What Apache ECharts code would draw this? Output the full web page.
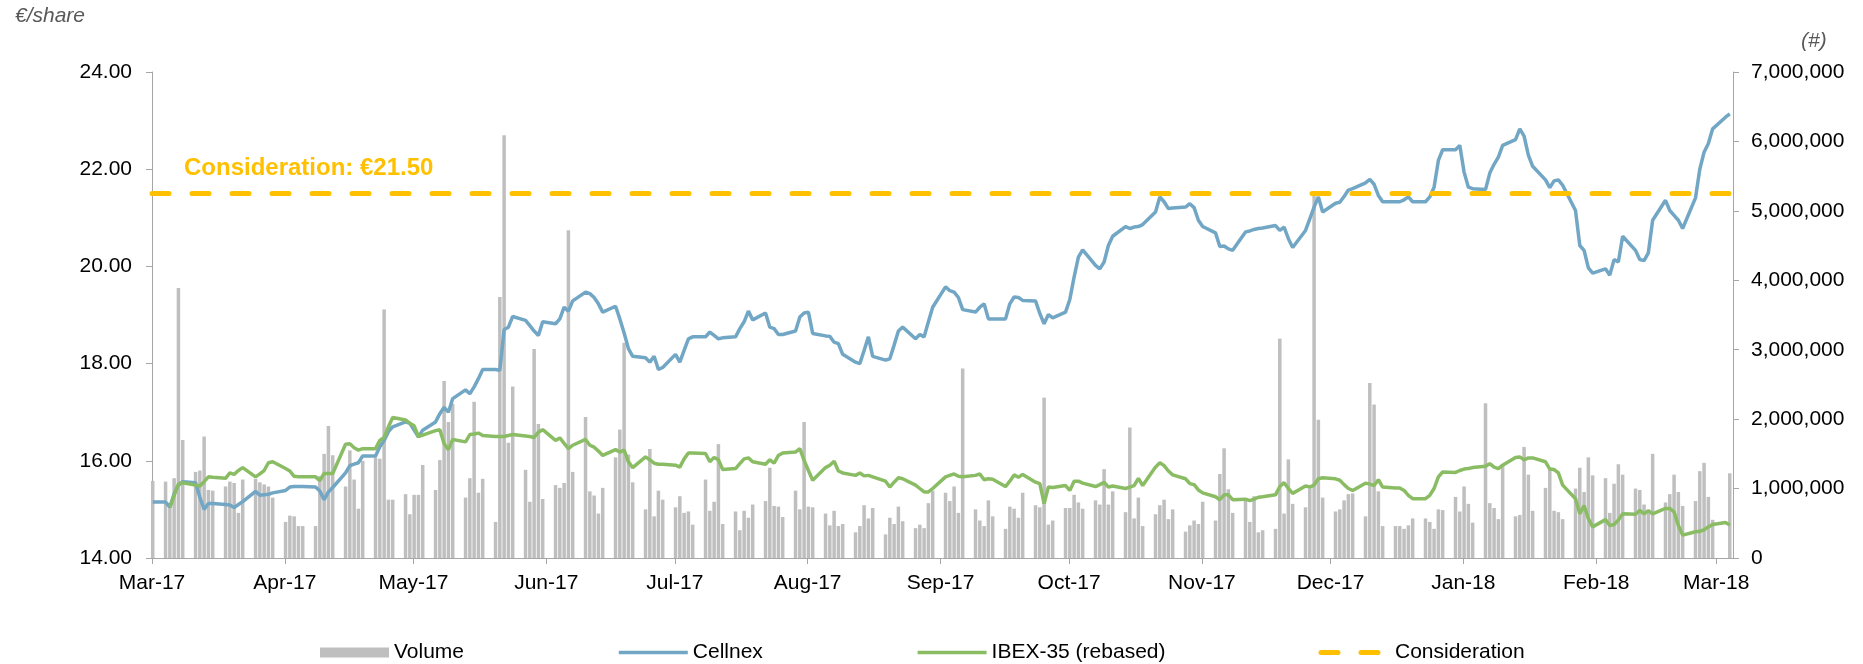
<!DOCTYPE html>
<html>
<head>
<meta charset="utf-8">
<title>Cellnex share price vs IBEX-35</title>
<script src="https://cdn.jsdelivr.net/npm/echarts@6/dist/echarts.min.js"></script>
<style>
  html, body { margin: 0; padding: 0; background: #fff; }
  #chart { width: 1863px; height: 664px; }
</style>
</head>
<body>
<div id="chart"></div>
<script>
// trading days: every weekday from 3 Mar 2017 to 6 Mar 2018 (one row per week below)
const firstDay = '2017-03-03';
const lastDay = '2018-03-06';
const tickDates = ['2017-03-03', '2017-04-03', '2017-05-03', '2017-06-03', '2017-07-03', '2017-08-03',
  '2017-09-03', '2017-10-03', '2017-11-03', '2017-12-03', '2018-01-03', '2018-02-03', '2018-03-03'];
const monthNames = ['Jan', 'Feb', 'Mar', 'Apr', 'May', 'Jun', 'Jul', 'Aug', 'Sep', 'Oct', 'Nov', 'Dec'];

const cellnex = [
  15.15,
  15.15, 15.05, 15.32, 15.50, 15.57,
  15.55, 15.25, 15.00, 15.12, 15.12,
  15.10, 15.09, 15.04, 15.10, 15.16,
  15.37, 15.29, 15.30, 15.31, 15.34,
  15.39, 15.46, 15.47, 15.47, 15.47,
  15.46, 15.38, 15.20, 15.36, 15.45,
  15.75, 15.90, 15.93, 15.96, 16.10,
  16.10, 16.29, 16.42, 16.60, 16.70,
  16.80, 16.77, 16.63, 16.49, 16.63,
  16.80, 16.97, 17.10, 17.00, 17.28,
  17.46, 17.38, 17.52, 17.69, 17.88,
  17.88, 17.86, 18.70, 18.75, 18.97,
  18.89, 18.78, 18.67, 18.58, 18.86,
  18.82, 18.92, 19.16, 19.08, 19.29,
  19.47, 19.44, 19.36, 19.23, 19.06,
  19.18, 18.92, 18.63, 18.31, 18.15,
  18.12, 18.03, 18.15, 17.88, 17.92,
  18.19, 18.03, 18.27, 18.51, 18.55,
  18.55, 18.65, 18.58, 18.51, 18.53,
  18.55, 18.72, 18.86, 19.08, 18.90,
  19.04, 18.75, 18.72, 18.60, 18.60,
  18.67, 18.96, 19.04, 19.06, 18.62,
  18.57, 18.56, 18.44, 18.41, 18.19,
  18.03, 18.00, 18.27, 18.55, 18.15,
  18.07, 18.10, 18.38, 18.67, 18.75,
  18.51, 18.60, 18.55, 18.86, 19.16,
  19.58, 19.50, 19.47, 19.36, 19.11,
  19.06, 19.16, 19.23, 18.92, 18.92,
  18.92, 19.23, 19.37, 19.36, 19.30,
  19.29, 19.03, 18.82, 19.01, 18.94,
  19.06, 19.32, 19.78, 20.19, 20.34,
  20.02, 19.95, 20.09, 20.43, 20.62,
  20.82, 20.78, 20.81, 20.82, 20.86,
  21.12, 21.43, 21.33, 21.19, 21.20,
  21.22, 21.29, 21.21, 20.95, 20.82,
  20.69, 20.41, 20.42, 20.36, 20.33,
  20.71, 20.73, 20.76, 20.78, 20.79,
  20.84, 20.74, 20.81, 20.57, 20.39,
  20.74, 20.98, 21.22, 21.43, 21.12,
  21.30, 21.32, 21.44, 21.57, 21.60,
  21.72, 21.79, 21.69, 21.46, 21.33,
  21.33, 21.33, 21.37, 21.43, 21.33,
  21.33, 21.43, 21.63, 22.18, 22.40,
  22.40, 22.49, 21.94, 21.63, 21.60,
  21.58, 21.92, 22.10, 22.25, 22.49,
  22.61, 22.83, 22.68, 22.29, 22.06,
  21.78, 21.62, 21.76, 21.78, 21.67,
  21.15, 20.43, 20.33, 19.97, 19.86,
  19.95, 19.82, 20.14, 20.09, 20.62,
  20.33, 20.14, 20.12, 20.28, 20.95,
  21.36, 21.15, 21.05, 20.95, 20.78,
  21.41, 22.00, 22.35, 22.53, 22.83,
  23.07, 23.14
];

const ibexRebased = [
  null,
  null, 15.04, 15.29, 15.52, 15.55,
  15.50, 15.48, 15.57, 15.67, 15.66,
  15.64, 15.75, 15.72, 15.80, 15.86,
  15.67, 15.73, 15.80, 15.96, 15.98,
  15.84, 15.79, 15.68, 15.67, 15.67,
  15.67, 15.59, 15.74, 15.74, 15.74,
  16.34, 16.35, 16.27, 16.22, 16.25,
  16.25, 16.42, 16.48, 16.70, 16.89,
  16.84, 16.77, 16.72, 16.50, 16.53,
  16.62, 16.64, 16.35, 16.23, 16.44,
  16.39, 16.54, 16.55, 16.57, 16.52,
  16.50, 16.50, 16.50, 16.52, 16.54,
  16.51, 16.50, 16.48, 16.59, 16.64,
  16.42, 16.47, 16.36, 16.25, 16.32,
  16.44, 16.32, 16.28, 16.20, 16.11,
  16.23, 16.18, 16.22, 15.98, 15.86,
  16.08, 16.02, 15.95, 15.93, 15.93,
  15.91, 15.87, 16.04, 16.16, 16.16,
  16.15, 15.98, 16.07, 16.02, 15.82,
  15.84, 15.94, 16.04, 16.06, 15.98,
  15.93, 16.02, 15.95, 16.11, 16.16,
  16.18, 16.25, 16.01, 15.80, 15.60,
  15.86, 15.91, 15.99, 15.79, 15.75,
  15.70, 15.75, 15.69, 15.70, 15.67,
  15.58, 15.46, 15.56, 15.65, 15.63,
  15.50, 15.43, 15.36, 15.36, 15.43,
  15.67, 15.70, 15.73, 15.68, 15.67,
  15.70, 15.73, 15.61, 15.63, 15.62,
  15.47, 15.58, 15.71, 15.66, 15.72,
  15.56, 15.53, 15.12, 15.46, 15.45,
  15.49, 15.39, 15.58, 15.58, 15.54,
  15.47, 15.51, 15.56, 15.46, 15.48,
  15.43, 15.46, 15.49, 15.64, 15.49,
  15.87, 15.96, 15.90, 15.79, 15.71,
  15.63, 15.53, 15.51, 15.40, 15.34,
  15.26, 15.20, 15.30, 15.30, 15.20,
  15.21, 15.18, 15.21, 15.25, 15.26,
  15.30, 15.47, 15.55, 15.43, 15.33,
  15.48, 15.46, 15.50, 15.63, 15.65,
  15.63, 15.60, 15.51, 15.43, 15.39,
  15.54, 15.52, 15.49, 15.61, 15.46,
  15.44, 15.44, 15.39, 15.29, 15.22,
  15.22, 15.29, 15.43, 15.67, 15.77,
  15.76, 15.80, 15.83, 15.84, 15.86,
  15.89, 15.94, 15.87, 15.84, 15.91,
  16.07, 16.08, 16.02, 16.06, 16.06,
  15.98, 15.83, 15.82, 15.75, 15.50,
  15.22, 14.91, 15.08, 14.81, 14.64,
  14.79, 14.67, 14.69, 14.78, 14.91,
  14.90, 14.98, 14.91, 14.97, 14.91,
  15.02, 15.02, 14.95, 14.67, 14.47,
  14.54, 14.55, 14.58, 14.64, 14.69,
  14.73, 14.68
];

// daily volume, millions of shares
const volumeMillions = [
  1.11,
  1.10, 0.73, 1.15, 3.89, 1.70,
  1.24, 1.26, 1.75, 0.98, 0.97,
  1.03, 1.10, 1.08, 0.65, 1.13,
  1.14, 1.09, 1.06, 1.03, 0.87,
  0.52, 0.61, 0.60, 0.46, 0.46,
  0.46, 1.18, 1.50, 1.90, 1.48,
  1.03, 1.55, 1.13, 0.71, 1.40,
  1.45, 1.43, 3.58, 0.84, 0.84,
  0.92, 0.63, 0.91, 0.91, 1.34,
  0.98, 1.41, 2.55, 1.96, 2.22,
  0.87, 1.15, 2.25, 0.94, 1.14,
  0.52, 3.76, 6.09, 1.66, 2.47,
  1.27, 0.81, 3.01, 1.93, 0.85,
  1.05, 1.01, 1.08, 4.72, 1.24,
  2.03, 0.96, 0.90, 0.64, 1.01,
  1.45, 1.85, 3.10, 1.49, 1.09,
  0.70, 1.57, 0.60, 0.97, 0.84,
  0.73, 0.89, 0.65, 0.67, 0.48,
  1.13, 0.68, 0.81, 1.64, 0.49,
  0.67, 0.40, 0.68, 0.58, 0.77,
  0.82, 1.30, 0.75, 0.74, 0.59,
  0.97, 0.70, 1.96, 0.74, 0.73,
  0.64, 0.47, 0.68, 0.46, 0.49,
  0.37, 0.46, 0.76, 0.57, 0.72,
  0.34, 0.58, 0.49, 0.74, 0.53,
  0.43, 0.48, 0.43, 0.79, 0.97,
  0.94, 0.82, 1.03, 0.65, 2.73,
  0.70, 0.54, 0.46, 0.83, 0.60,
  0.42, 0.74, 0.71, 0.58, 0.94,
  0.76, 0.73, 2.31, 0.48, 0.54,
  0.72, 0.72, 0.91, 0.80, 0.71,
  0.83, 0.77, 1.28, 0.77, 0.96,
  0.66, 1.88, 0.57, 0.87, 0.46,
  0.63, 0.76, 0.84, 0.56, 0.70,
  0.38, 0.47, 0.54, 0.49, 0.81,
  0.54, 1.21, 1.58, 0.99, 0.65,
  0.83, 0.52, 0.89, 0.37, 0.40,
  0.42, 3.16, 0.64, 1.42, 0.78,
  0.73, 1.00, 5.25, 1.99, 0.87,
  0.67, 0.70, 0.83, 0.92, 0.93,
  0.60, 2.52, 2.21, 0.96, 0.46,
  0.46, 0.46, 0.42, 0.47, 0.57,
  0.57, 0.52, 0.42, 0.70, 0.69,
  0.88, 0.67, 1.03, 0.78, 0.51,
  2.23, 0.79, 0.72, 0.56, 1.35,
  0.60, 0.62, 1.60, 1.20, 0.68,
  1.01, 1.30, 0.68, 0.66, 0.56,
  1.00, 1.30, 0.95, 1.45, 1.19,
  1.15, 0.65, 1.07, 1.35, 1.20,
  1.00, 0.98, 0.77, 0.70, 1.50,
  0.80, 0.92, 1.20, 0.95, 0.75,
  0.82, 1.25, 1.37, 0.88, 0.55,
  null, 1.22
];

const considerationPrice = 21.5;

function parseDay(s, hour) {
  const p = s.split('-').map(Number);
  return new Date(p[0], p[1] - 1, p[2], hour || 0).getTime();
}

// weekdays only
const tradingDays = [];
for (let d = new Date(parseDay(firstDay)); d.getTime() <= parseDay(lastDay); d.setDate(d.getDate() + 1)) {
  if (d.getDay() !== 0 && d.getDay() !== 6) {
    tradingDays.push(new Date(d.getFullYear(), d.getMonth(), d.getDate(), 4).getTime());
  }
}
const monthTicks = tickDates.map(s => parseDay(s));
const axisStart = parseDay(firstDay);
const axisEnd = parseDay(lastDay, 22);

const FONT = '"Liberation Sans", Arial, Helvetica, sans-serif';
const BLUE = '#71A6C4';
const GREEN = '#8ABC64';
const GOLD = '#FFC000';
const consDash = { color: GOLD, width: 5, type: [17, 23], cap: 'round' };

const pair = arr => tradingDays.map((t, i) => [t, arr[i]]);

const chart = echarts.init(document.getElementById('chart'));
chart.setOption({
  animation: false,
  textStyle: { fontFamily: FONT },
  grid: { left: 152, right: 130, top: 72, bottom: 106 },
  legend: {
    left: 315,
    top: 637,
    itemWidth: 69,
    itemHeight: 10,
    itemGap: 153,
    textStyle: { fontFamily: FONT, fontSize: 21, color: '#000' },
    data: [
      { name: 'Volume', icon: 'rect' },
      { name: 'Cellnex', itemStyle: { opacity: 0 }, lineStyle: { color: BLUE, width: 3.5 } },
      { name: 'IBEX-35 (rebased)', itemStyle: { opacity: 0 }, lineStyle: { color: GREEN, width: 3.5 } },
      { name: 'Consideration', itemStyle: { opacity: 0 }, lineStyle: consDash }
    ]
  },
  xAxis: {
    // timestamps on a value axis, so month ticks can sit on the 3rd of each month
    type: 'value',
    min: axisStart,
    max: axisEnd,
    axisLine: { onZero: false, lineStyle: { color: '#A6A6A6', width: 1 } },
    axisTick: { customValues: monthTicks, length: 6, lineStyle: { color: '#A6A6A6' } },
    axisLabel: {
      customValues: monthTicks,
      margin: 15,
      fontFamily: FONT,
      fontSize: 21,
      color: '#000',
      formatter: v => {
        const d = new Date(v);
        return monthNames[d.getMonth()] + '-' + String(d.getFullYear()).slice(2);
      }
    },
    splitLine: { show: false }
  },
  yAxis: [
    {
      type: 'value',
      min: 14,
      max: 24,
      interval: 2,
      axisLine: { show: true, onZero: false, lineStyle: { color: '#A6A6A6' } },
      axisTick: { show: true, length: 6, lineStyle: { color: '#A6A6A6' } },
      axisLabel: { margin: 20, fontFamily: FONT, fontSize: 21, color: '#000', formatter: v => v.toFixed(2) },
      splitLine: { show: false }
    },
    {
      type: 'value',
      position: 'right',
      min: 0,
      max: 7000000,
      interval: 1000000,
      axisLine: { show: true, onZero: false, lineStyle: { color: '#A6A6A6' } },
      axisTick: { show: true, length: 6, lineStyle: { color: '#A6A6A6' } },
      axisLabel: {
        margin: 18, fontFamily: FONT, fontSize: 21, color: '#000',
        formatter: v => v.toLocaleString('en-US')
      },
      splitLine: { show: false }
    }
  ],
  series: [
    {
      name: 'Volume',
      type: 'bar',
      yAxisIndex: 1,
      barWidth: 3.5,
      itemStyle: { color: '#BFBFBF' },
      data: tradingDays.map((t, i) => [t, volumeMillions[i] == null ? null : volumeMillions[i] * 1e6])
    },
    {
      name: 'Cellnex',
      type: 'line',
      symbol: 'none',
      lineStyle: { color: BLUE, width: 3.5 },
      itemStyle: { color: BLUE },
      data: pair(cellnex)
    },
    {
      name: 'IBEX-35 (rebased)',
      type: 'line',
      symbol: 'none',
      lineStyle: { color: GREEN, width: 3.5 },
      itemStyle: { color: GREEN },
      data: pair(ibexRebased)
    },
    {
      name: 'Consideration',
      type: 'line',
      symbol: 'none',
      lineStyle: consDash,
      itemStyle: { color: GOLD },
      data: [[axisStart, considerationPrice], [axisEnd, considerationPrice]]
    }
  ]
});

// labels placed relative to the axis scale
const yCons = chart.convertToPixel({ yAxisIndex: 0 }, considerationPrice);
chart.setOption({
  graphic: [
    {
      type: 'text', x: 15, y: 16,
      style: { text: '€/share', font: 'italic 21px ' + FONT, fill: '#595959', verticalAlign: 'middle' }
    },
    {
      type: 'text', x: 1801, y: 41,
      style: { text: '(#)', font: 'italic 21px ' + FONT, fill: '#595959', verticalAlign: 'middle' }
    },
    {
      type: 'text', x: 184, y: yCons - 25,
      style: { text: 'Consideration: €' + considerationPrice.toFixed(2), font: 'bold 24px ' + FONT, fill: GOLD, verticalAlign: 'middle' }
    }
  ]
});
</script>
</body>
</html>
